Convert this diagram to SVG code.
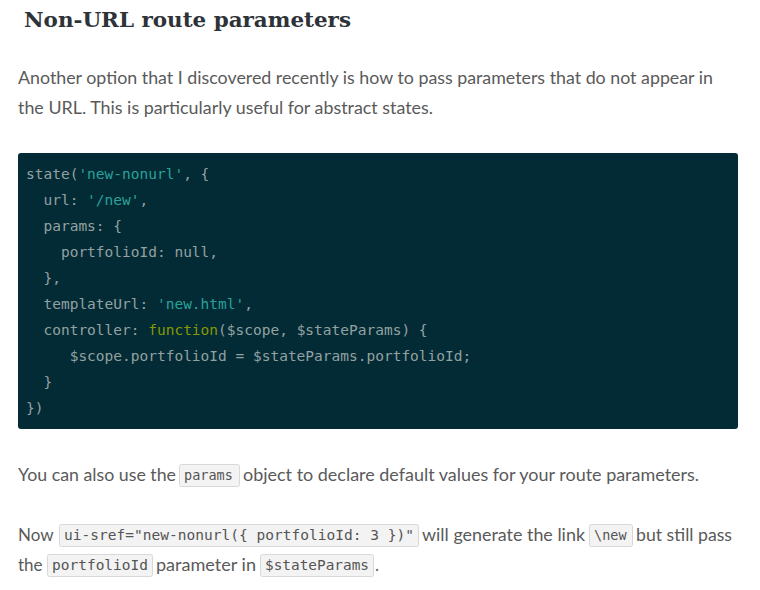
<svg xmlns="http://www.w3.org/2000/svg" width="760" height="590" viewBox="0 0 760 590">
<style>
.b{font-family:Lato,"Open Sans",sans-serif;font-size:17px;fill:#5a5a5a}
.c{font-family:"DejaVu Sans Mono",monospace;font-size:14.5px;fill:#93a1a1;white-space:pre}
.s{fill:#2aa198}.f{fill:#859900}
.ic{font-family:"DejaVu Sans Mono",monospace;font-size:13.5px;fill:#555;white-space:pre}
.box{fill:#f3f3f3;stroke:#d8d8d8;stroke-width:1}
</style>
<rect width="760" height="590" fill="#fff"/>
<text x="24" y="27" font-family="DejaVu Serif,serif" font-weight="bold" font-size="21" fill="#2d3338" textLength="327" lengthAdjust="spacingAndGlyphs">Non-URL route parameters</text>
<text class="b" x="18" y="84" textLength="695" lengthAdjust="spacingAndGlyphs">Another option that I discovered recently is how to pass parameters that do not appear in</text>
<text class="b" x="18" y="114" textLength="415" lengthAdjust="spacingAndGlyphs">the URL. This is particularly useful for abstract states.</text>
<rect x="18" y="153" width="720" height="276" rx="3" fill="#022b36"/>
<text class="c" x="26" y="179">state(<tspan class="s">'new-nonurl'</tspan>, {</text>
<text class="c" x="26" y="205">  url: <tspan class="s">'/new'</tspan>,</text>
<text class="c" x="26" y="231">  params: {</text>
<text class="c" x="26" y="257">    portfolioId: null,</text>
<text class="c" x="26" y="283">  },</text>
<text class="c" x="26" y="309">  templateUrl: <tspan class="s">'new.html'</tspan>,</text>
<text class="c" x="26" y="335">  controller: <tspan class="f">function</tspan>($scope, $stateParams) {</text>
<text class="c" x="26" y="361">     $scope.portfolioId = $stateParams.portfolioId;</text>
<text class="c" x="26" y="387">  }</text>
<text class="c" x="26" y="413">})</text>
<rect class="box" x="179.5" y="464.5" width="60" height="22" rx="2"/>
<text class="b" x="18" y="481" textLength="158" lengthAdjust="spacingAndGlyphs">You can also use the</text>
<text class="ic" x="184" y="480">params</text>
<text class="b" x="243" y="481" textLength="456" lengthAdjust="spacingAndGlyphs">object to declare default values for your route parameters.</text>
<rect class="box" x="59.5" y="524.5" width="359" height="22" rx="2"/>
<rect class="box" x="589.5" y="524.5" width="43" height="22" rx="2"/>
<rect class="box" x="47.5" y="554.5" width="105" height="22" rx="2"/>
<rect class="box" x="260.5" y="554.5" width="113" height="22" rx="2"/>
<text class="b" x="18" y="541">Now</text>
<text class="ic" x="64" y="540" textLength="350" lengthAdjust="spacingAndGlyphs">ui-sref="new-nonurl({ portfolioId: 3 })"</text>
<text class="b" x="422" y="541" textLength="163" lengthAdjust="spacingAndGlyphs">will generate the link</text>
<text class="ic" x="594" y="540">\new</text>
<text class="b" x="636" y="541" textLength="96" lengthAdjust="spacingAndGlyphs">but still pass</text>
<text class="b" x="18" y="571">the</text>
<text class="ic" x="52" y="570" textLength="96" lengthAdjust="spacingAndGlyphs">portfolioId</text>
<text class="b" x="156" y="571" textLength="100" lengthAdjust="spacingAndGlyphs">parameter in</text>
<text class="ic" x="265" y="570" textLength="104" lengthAdjust="spacingAndGlyphs">$stateParams</text>
<text class="b" x="375" y="571">.</text>
</svg>
